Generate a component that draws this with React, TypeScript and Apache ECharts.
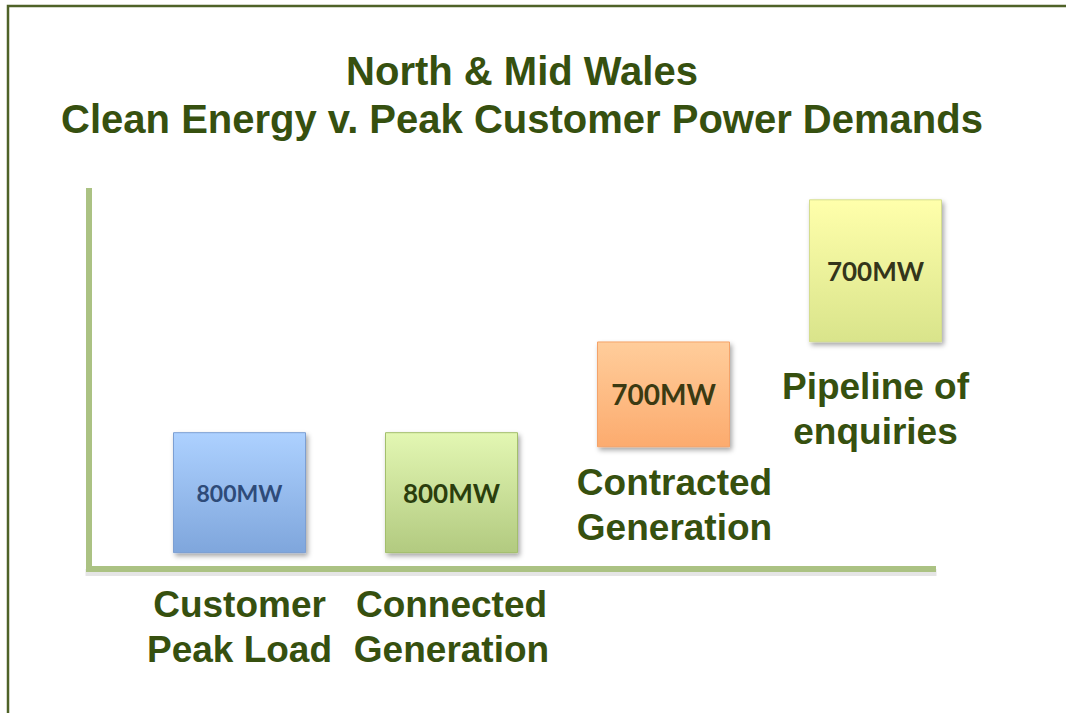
import React, { useEffect, useRef } from "react";
import * as echarts from "echarts";

const categories = [
  "Customer\nPeak Load",
  "Connected\nGeneration",
  "Contracted\nGeneration",
  "Pipeline of\nenquiries",
];
const valueLabels = ["800MW", "800MW", "700MW", "700MW"];
// visual extent of each box (same scale units as the chart's y axis)
const barBase = [105, 105, 805, 1500];
const barSpan = [800, 800, 700, 945];
const yMax = 2520;

const barColors = [
  { top: "#add1ff", bottom: "#7fa6dc", border: "#7c9fd3", text: "#2e4b79", size: 23 },
  { top: "#e3f7b3", bottom: "#b2ca80", border: "#a3bf6c", text: "#2b3e0d", size: 26 },
  { top: "#ffcd9b", bottom: "#fcab6e", border: "#f4a36a", text: "#3b3a12", size: 28 },
  { top: "#ffffab", bottom: "#d9e48b", border: "#d4dd8e", text: "#34351a", size: 26 },
];
const catLabelPlacement = [
  { position: "bottom", distance: 13, offset: [0, 0] },
  { position: "bottom", distance: 13, offset: [0, 0] },
  { position: "insideTop", distance: 13, offset: [11, 0] },
  { position: "insideTop", distance: 22, offset: [0, 0] },
];

const TEXT_GREEN = "#36500f";
const AXIS_GREEN = "#abc283";

const hiddenParts = {
  axisTick: { show: false },
  axisLabel: { show: false },
  splitLine: { show: false },
};

export default function App() {
  const ref = useRef<HTMLDivElement>(null);
  useEffect(() => {
    if (!ref.current) return;
    const chart = echarts.init(ref.current, undefined, { renderer: "svg" });
    chart.setOption({
      animation: false,
      backgroundColor: "#ffffff",
      title: {
        text: "North & Mid Wales\nClean Energy v. Peak Customer Power Demands",
        left: 517,
        top: 42,
        textAlign: "center",
        textStyle: {
          fontFamily: "Liberation Sans, Arial, sans-serif",
          fontWeight: "bold",
          fontSize: 40,
          lineHeight: 48,
          color: TEXT_GREEN,
        },
      },
      graphic: [
        {
          type: "rect",
          shape: { x: 8, y: 6, width: 1200, height: 900 },
          style: { fill: "none", stroke: "#4f6228", lineWidth: 2.5 },
          silent: true,
        },
      ],
      grid: [
        { left: 89, right: 133, top: 191, bottom: 144 },
        { left: 133.5, right: 84.5, top: 188, bottom: 144 },
      ],
      xAxis: [
        {
          gridIndex: 0,
          type: "value",
          min: 0,
          max: 1,
          z: 3,
          axisLine: {
            show: true,
            onZero: false,
            lineStyle: { color: AXIS_GREEN, width: 6, cap: "square" },
          },
          ...hiddenParts,
        },
        {
          gridIndex: 1,
          type: "category",
          data: categories,
          axisLine: { show: false },
          ...hiddenParts,
        },
        {
          gridIndex: 0,
          type: "value",
          min: 0,
          max: 1,
          position: "bottom",
          offset: 3,
          z: 1,
          axisLine: {
            show: true,
            onZero: false,
            lineStyle: { color: "rgba(0,0,0,0.10)", width: 7, cap: "square" },
          },
          ...hiddenParts,
        },
      ],
      yAxis: [
        {
          gridIndex: 0,
          type: "value",
          min: 0,
          max: 1,
          z: 3,
          axisLine: {
            show: true,
            onZero: false,
            lineStyle: { color: AXIS_GREEN, width: 6, cap: "square" },
          },
          ...hiddenParts,
        },
        {
          gridIndex: 1,
          type: "value",
          min: 0,
          max: yMax,
          axisLine: { show: false },
          ...hiddenParts,
        },
      ],
      series: [
        {
          type: "line",
          xAxisIndex: 0,
          yAxisIndex: 0,
          data: [],
          silent: true,
        },
        {
          type: "line",
          xAxisIndex: 2,
          yAxisIndex: 0,
          data: [],
          silent: true,
        },
        {
          type: "bar",
          xAxisIndex: 1,
          yAxisIndex: 1,
          stack: "boxes",
          barWidth: 133,
          silent: true,
          itemStyle: { color: "rgba(0,0,0,0)" },
          data: barBase.map((v, i) => ({
            value: v,
            label: {
              show: true,
              position: catLabelPlacement[i].position,
              distance: catLabelPlacement[i].distance,
              offset: catLabelPlacement[i].offset,
              formatter: categories[i],
              fontFamily: "Liberation Sans, Arial, sans-serif",
              fontWeight: "bold",
              fontSize: 37,
              lineHeight: 45,
              color: TEXT_GREEN,
              align: "center",
            },
          })),
        },
        {
          type: "bar",
          xAxisIndex: 1,
          yAxisIndex: 1,
          stack: "boxes",
          barWidth: 133,
          silent: true,
          data: barSpan.map((v, i) => ({
            value: v,
            itemStyle: {
              color: new echarts.graphic.LinearGradient(0, 0, 0, 1, [
                { offset: 0, color: barColors[i].top },
                { offset: 1, color: barColors[i].bottom },
              ]),
              borderColor: barColors[i].border,
              borderWidth: 1,
              shadowColor: "rgba(0,0,0,0.35)",
              shadowBlur: 5,
              shadowOffsetX: 2,
              shadowOffsetY: 3,
            },
            label: {
              show: true,
              position: "inside",
              formatter: valueLabels[i],
              fontFamily: "Lato, 'Open Sans', sans-serif",
              fontWeight: "bold",
              fontSize: barColors[i].size,
              color: barColors[i].text,
            },
          })),
        },
      ],
    });
    return () => chart.dispose();
  }, []);
  return (
    <div
      ref={ref}
      style={{
        position: "fixed",
        left: 0,
        top: 0,
        width: 1066,
        height: 713,
        background: "#fff",
      }}
    />
  );
}
